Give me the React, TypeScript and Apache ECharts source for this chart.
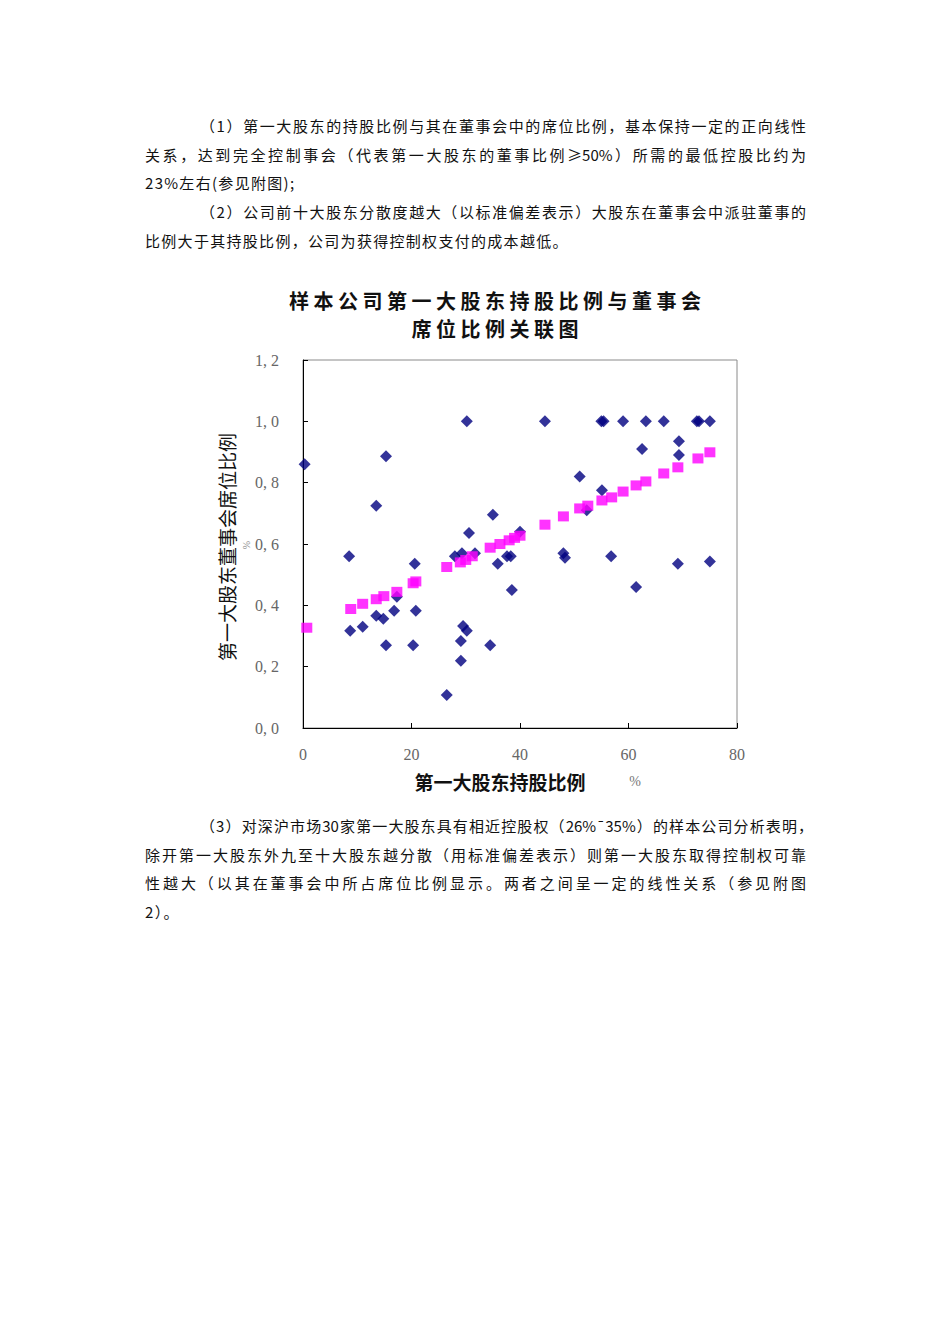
import React, { useEffect, useRef } from "react";
import * as echarts from "echarts";

const titleLines = ["样本公司第一大股东持股比例与董事会", "席位比例关联图"];
const xAxisName = "第一大股东持股比例";
const yAxisName = "第一大股东董事会席位比例";
const unitLabel = "%";
const xTicks = [0, 20, 40, 60, 80];
const yTickLabels: Record<string, string> = {
  "0": "0, 0", "0.2": "0, 2", "0.4": "0, 4", "0.6": "0, 6", "0.8": "0, 8", "1": "1, 0", "1.2": "1, 2",
};

// 实际值 (第一大股东持股比例 %, 董事会席位比例)
const actualPoints: [number, number][] = [
  [0.3, 0.86], [8.5, 0.56], [8.7, 0.317], [11, 0.33], [13.5, 0.725], [13.5, 0.366], [14.8, 0.356],
  [15.3, 0.886], [15.3, 0.27], [16.8, 0.382], [17.3, 0.428], [20.3, 0.27], [20.6, 0.536], [20.8, 0.382],
  [26.5, 0.108], [28, 0.56], [29.1, 0.284], [29.1, 0.219], [29.3, 0.57], [29.5, 0.333], [30.2, 0.317],
  [30.2, 1.0], [30.6, 0.636], [31.7, 0.57], [34.5, 0.27], [35, 0.695], [35.9, 0.536], [37.6, 0.56],
  [38.3, 0.56], [38.5, 0.45], [40, 0.64], [44.6, 1.0], [48, 0.57], [48.3, 0.555], [51, 0.82],
  [52.3, 0.71], [55, 1.0], [55.4, 1.0], [55.1, 0.775], [56.8, 0.56], [59, 1.0], [61.4, 0.46],
  [62.5, 0.91], [63.2, 1.0], [66.5, 1.0], [69.1, 0.536], [69.3, 0.935], [69.3, 0.89], [72.6, 1.0],
  [73, 1.0], [75, 1.0], [75, 0.543],
];

// 拟合值
const fittedPoints: [number, number][] = [
  [0.7, 0.327], [8.8, 0.388], [11, 0.405], [13.5, 0.42], [14.9, 0.43], [17.3, 0.444], [20.3, 0.472],
  [20.8, 0.478], [26.5, 0.525], [29, 0.54], [30, 0.548], [31.2, 0.56], [34.5, 0.588], [36.3, 0.6],
  [38, 0.612], [39, 0.62], [40, 0.627], [44.6, 0.663], [48, 0.69], [51, 0.716], [52.5, 0.725],
  [55.1, 0.742], [56.9, 0.752], [59, 0.771], [61.4, 0.791], [63.2, 0.804], [66.5, 0.83], [69.1, 0.85],
  [72.8, 0.879], [75, 0.899],
];

type Line = { text: string; y: number; indent: boolean; full: boolean; right?: number };
const textLines: Line[] = [
  { text: "（1）第一大股东的持股比例与其在董事会中的席位比例，基本保持一定的正向线性", y: 126, indent: true, full: true },
  { text: "关系，达到完全控制事会（代表第一大股东的董事比例≥50%）所需的最低控股比约为", y: 155, indent: false, full: true },
  { text: "23%左右(参见附图);", y: 183, indent: false, full: false },
  { text: "（2）公司前十大股东分散度越大（以标准偏差表示）大股东在董事会中派驻董事的", y: 212, indent: true, full: true },
  { text: "比例大于其持股比例，公司为获得控制权支付的成本越低。", y: 241, indent: false, full: false },
  { text: "（3）对深沪市场30家第一大股东具有相近控股权（26%¯35%）的样本公司分析表明，", y: 826, indent: true, full: true, right: 813 },
  { text: "除开第一大股东外九至十大股东越分散（用标准偏差表示）则第一大股东取得控制权可靠", y: 855, indent: false, full: true },
  { text: "性越大（以其在董事会中所占席位比例显示。两者之间呈一定的线性关系（参见附图", y: 883, indent: false, full: true },
  { text: "2）。", y: 912, indent: false, full: false },
];

const titleY = [301, 329];
const CHART_TOP = 270;

export default function App() {
  const ref = useRef<HTMLDivElement>(null);
  useEffect(() => {
    if (!ref.current) return;
    const chart = echarts.init(ref.current, null, { renderer: "svg" });
    const gray = "#666";
    chart.setOption({
      animation: false,
      backgroundColor: "transparent",
      grid: {
        left: 303, right: 950 - 737, top: 360 - CHART_TOP, bottom: CHART_TOP + 540 - 728,
        show: true, borderColor: "#8a8a8a", borderWidth: 1,
      },
      xAxis: {
        type: "value", min: 0, max: 80, interval: 20,
        axisLine: { lineStyle: { color: "#000", width: 1 } },
        axisTick: { inside: true, length: 5, lineStyle: { color: "#000" } },
        axisLabel: { color: gray, fontFamily: "Liberation Serif", fontSize: 16, margin: 18,
          formatter: (v: number) => (xTicks.includes(v) ? String(v) : "") },
        splitLine: { show: false },
      },
      yAxis: {
        type: "value", min: 0, max: 1.2, interval: 0.2,
        axisLine: { show: true, lineStyle: { color: "#000", width: 1 } },
        axisTick: { show: true, inside: true, length: 5, lineStyle: { color: "#000" } },
        axisLabel: { color: gray, fontFamily: "Liberation Serif", fontSize: 16, margin: 24,
          formatter: (v: number) => yTickLabels[String(Math.round(v * 10) / 10)] ?? "" },
        splitLine: { show: false },
      },
      graphic: [
        { type: "text", x: 500, y: 781 - CHART_TOP, style: { text: xAxisName, fontFamily: "Noto Sans CJK SC",
            fontWeight: "bold", fontSize: 19, fill: "#111", align: "center", verticalAlign: "middle" } },
        { type: "text", x: 635, y: 781 - CHART_TOP, style: { text: unitLabel, fontFamily: "Liberation Serif",
            fontSize: 14, fill: "#777", align: "center", verticalAlign: "middle" } },
        { type: "text", x: 226, y: 547 - CHART_TOP, rotation: Math.PI / 2, style: { text: yAxisName,
            fontFamily: "Noto Sans CJK SC", fontSize: 19, fill: "#111", align: "center", verticalAlign: "middle" } },
        { type: "text", x: 246, y: 545 - CHART_TOP, rotation: Math.PI / 2, style: { text: unitLabel,
            fontFamily: "Liberation Serif", fontSize: 10, fill: "#888", align: "center", verticalAlign: "middle" } },
      ],
      series: [
        { type: "scatter", data: actualPoints, symbol: "diamond", symbolSize: [12, 12],
          itemStyle: { color: "#000080" }, z: 2 },
        { type: "scatter", data: fittedPoints, symbol: "rect", symbolSize: [11, 10],
          itemStyle: { color: "#ff00ff" }, z: 3 },
      ],
    });
    return () => chart.dispose();
  }, []);

  return (
    <div style={{ position: "absolute", left: 0, top: 0, width: 950, height: 1344, background: "#fff",
      fontFamily: "'Noto Sans CJK SC', sans-serif", color: "#111" }}>
      {textLines.map((l, i) => {
        const left = l.indent ? 200 : 145;
        const right = l.right ?? 806;
        return (
          <div key={i} style={{ position: "absolute", left, top: l.y - 12, width: right - left, height: 24,
            lineHeight: "24px", fontSize: 15, letterSpacing: l.full ? 0 : 1.3, whiteSpace: "nowrap",
            textAlign: l.full ? "justify" : "left", textAlignLast: l.full ? "justify" : "left" } as any}>
            {l.text}
          </div>
        );
      })}
      <div ref={ref} style={{ position: "absolute", left: 0, top: CHART_TOP, width: 950, height: 540 }} />
      {titleLines.map((t, i) => (
        <div key={"t" + i} style={{ position: "absolute", left: 245, width: 500, top: titleY[i] - 12, height: 24,
          lineHeight: "24px", fontSize: 20, fontWeight: "bold", letterSpacing: 4.5, textIndent: 4.5,
          textAlign: "center", whiteSpace: "nowrap", color: "#111" }}>
          {t}
        </div>
      ))}
    </div>
  );
}
